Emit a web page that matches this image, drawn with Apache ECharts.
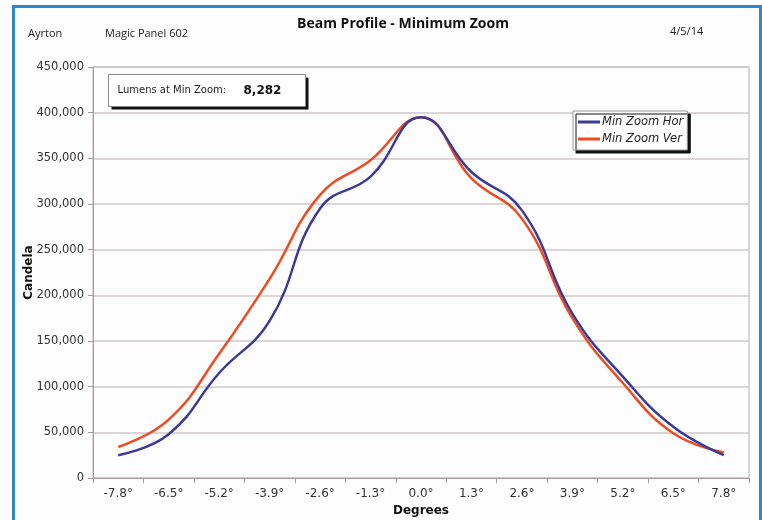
<!DOCTYPE html>
<html>
<head>
<meta charset="utf-8">
<script src="https://cdn.jsdelivr.net/npm/echarts@6/dist/echarts.min.js"></script>
<style>
html,body{margin:0;padding:0;background:#fdfdfd;}
#c{width:762px;height:520px;}
</style>
</head>
<body>
<div id="c"></div>
<script>
const categories = ['-7.8°','-6.5°','-5.2°','-3.9°','-2.6°','-1.3°','0.0°','1.3°','2.6°','3.9°','5.2°','6.5°','7.8°'];
const minZoomHor = [25000, 48000, 115000, 172000, 295000, 330000, 395000, 335000, 293000, 180000, 111000, 56000, 25000];
const minZoomVer = [34000, 64000, 136000, 218000, 310000, 348000, 395000, 328000, 284000, 175000, 104000, 49000, 28000];
const seriesNames = ['Min Zoom Hor', 'Min Zoom Ver'];
const lumensLabel = 'Lumens at Min Zoom:';
const lumensValue = '8,282';

const chart = echarts.init(document.getElementById('c'), null, {renderer: 'canvas'});
const axisFont = 'DejaVu Sans';
chart.setOption({
  backgroundColor: '#fdfdfd',
  animation: false,
  title: [
    {text: 'Beam Profile - Minimum Zoom', left: 398, top: 12, textAlign: 'center',
     textStyle: {fontFamily: 'Open Sans', fontWeight: 'bold', fontSize: 14, color: '#111'}},
    {text: 'Ayrton', left: 23, top: 23, textStyle: {fontFamily: 'Open Sans', fontWeight: 'normal', fontSize: 11, color: '#222'}},
    {text: 'Magic Panel 602', left: 100, top: 23, textStyle: {fontFamily: 'Open Sans', fontWeight: 'normal', fontSize: 11, color: '#222'}},
    {text: '4/5/14', left: 665, top: 21, textStyle: {fontFamily: 'Open Sans', fontWeight: 'normal', fontSize: 11, color: '#222'}}
  ],
  grid: {left: 93, right: 13, top: 67, bottom: 42, outerBoundsMode: 'none', containLabel: false,
         show: true, borderColor: '#b8aeae', borderWidth: 1, backgroundColor: 'transparent'},
  legend: {
    orient: 'vertical', left: 573, top: 111, itemGap: 5,
    padding: [5, 4, 5, 5],
    backgroundColor: '#fff', borderColor: '#999', borderWidth: 1,
    shadowColor: '#111', shadowBlur: 0, shadowOffsetX: 3, shadowOffsetY: 3,
    icon: 'rect', itemWidth: 22, itemHeight: 3,
    textStyle: {fontFamily: axisFont, fontStyle: 'italic', fontSize: 11.5, color: '#222', padding: [0,0,0,-3]},
    data: seriesNames
  },
  xAxis: {
    type: 'category', data: categories, boundaryGap: true,
    name: 'Degrees', nameLocation: 'middle', nameGap: 27, nameMoveOverlap: false,
    nameTextStyle: {fontFamily: axisFont, fontWeight: 'bold', fontSize: 12, color: '#111'},
    axisLine: {lineStyle: {color: '#a89c9c', width: 1}},
    axisTick: {show: true, length: 5, lineStyle: {color: '#a89c9c'}},
    axisLabel: {fontFamily: axisFont, fontSize: 12, color: '#333', margin: 10},
    splitLine: {show: false}
  },
  yAxis: {
    type: 'value', min: 0, max: 450000, interval: 50000,
    name: 'Candela', nameLocation: 'middle', nameGap: 58, nameRotate: 90, nameMoveOverlap: false,
    nameTextStyle: {fontFamily: axisFont, fontWeight: 'bold', fontSize: 12, color: '#111'},
    axisLine: {show: true, lineStyle: {color: '#a89c9c', width: 1}},
    axisTick: {show: true, length: 5, lineStyle: {color: '#a89c9c'}},
    axisLabel: {fontFamily: axisFont, fontSize: 11.5, color: '#333', margin: 9,
      formatter: v => v.toLocaleString('en-US')},
    splitLine: {show: true, lineStyle: {color: '#cfc7c7', width: 1.5}}
  },
  series: [
    {name: seriesNames[0], type: 'line', data: minZoomHor, smooth: 0.45, symbol: 'none',
     lineStyle: {color: '#3a3b96', width: 2.5}, itemStyle: {color: '#3a3b96'}, z: 3},
    {name: seriesNames[1], type: 'line', data: minZoomVer, smooth: 0.45, symbol: 'none',
     lineStyle: {color: '#f04a22', width: 2.5}, itemStyle: {color: '#f04a22'}, z: 2}
  ],
  graphic: [
    {type: 'rect', left: 11, top: 4, shape: {width: 747, height: 540},
     style: {fill: 'none', stroke: '#2f88c7', lineWidth: 3}, silent: true, z: 100},
    {type: 'group', left: 108, top: 74, z: 50, children: [
      {type: 'rect', shape: {x: 3, y: 3, width: 197, height: 32}, style: {fill: '#111'}},
      {type: 'rect', shape: {x: 0, y: 0, width: 197, height: 32}, style: {fill: '#fff', stroke: '#888', lineWidth: 1}},
      {type: 'text', x: 9, y: 16, style: {text: lumensLabel, fontFamily: axisFont, fontSize: 10, fill: '#222', verticalAlign: 'middle'}},
      {type: 'text', x: 135, y: 16, style: {text: lumensValue, fontFamily: axisFont, fontWeight: 'bold', fontSize: 12, fill: '#111', verticalAlign: 'middle'}}
    ]}
  ]
});
</script>
</body>
</html>
